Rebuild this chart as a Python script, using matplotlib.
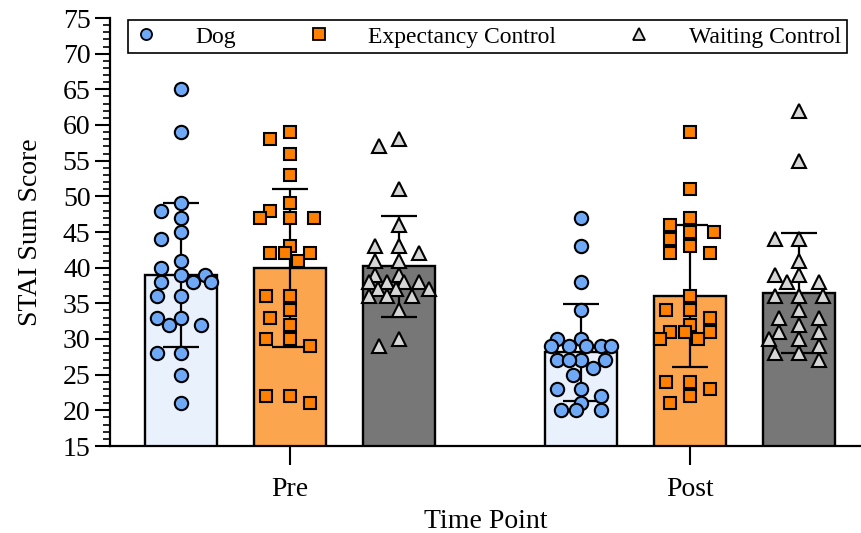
import numpy as np
import matplotlib.pyplot as plt
from matplotlib.lines import Line2D
from matplotlib.ticker import MultipleLocator

plt.rcParams['font.family'] = ['Liberation Serif', 'DejaVu Serif']

time_points = ['Pre', 'Post']
groups = ['Dog', 'Expectancy Control', 'Waiting Control']

# STAI sum scores per participant
dog_pre = [65, 59, 49, 48, 47, 45, 44, 41, 40, 39, 39, 38, 38, 38,
           36, 36, 33, 33, 32, 32, 28, 28, 25, 21]
exp_pre = [59, 58, 56, 53, 49, 48, 47, 47, 47, 43, 42, 42, 42, 41,
           36, 36, 34, 33, 32, 30, 30, 29, 22, 22, 21]
wait_pre = [58, 57, 51, 46, 43, 43, 42, 41, 41, 39, 39, 38, 38, 38,
            38, 37, 37, 37, 36, 36, 36, 34, 30, 29]
dog_post = [47, 43, 38, 34, 30, 30, 29, 29, 29, 29, 29, 27, 27, 27,
            27, 26, 25, 23, 23, 22, 21, 20, 20, 20]
exp_post = [59, 51, 47, 46, 45, 45, 44, 43, 42, 42, 36, 34, 34, 33,
            32, 31, 31, 31, 30, 30, 24, 24, 23, 22, 21]
wait_post = [62, 55, 44, 44, 41, 39, 39, 38, 38, 36, 36, 36, 34, 33,
             33, 32, 31, 31, 30, 30, 29, 28, 28, 27]

scores = [[dog_pre, exp_pre, wait_pre],
          [dog_post, exp_post, wait_post]]

bar_fill = ['#e9f1fd', '#fca54f', '#777777']
point_fill = ['#6fa8f5', '#ff7f00', '#d6d6d6']
markers = ['o', 's', '^']
msizes = [9.6, 9.0, 9.8]
shift = [-0.2725, 0.0, 0.2725]
bar_w = 0.178


def swarm_x(values, ax, xc, half_px=30, wx=24.0, wy=13.0):
    # beeswarm in pixel space; points stay inside the bar, and when a row
    # is full the least crowded slot is taken
    trans = ax.transData
    vals = np.asarray(values, dtype=float)
    ys = trans.transform(np.column_stack([np.full(len(vals), xc), vals]))[:, 1]
    order = np.argsort(-vals, kind='stable')
    grid = np.linspace(-half_px, half_px, 61)
    placed = []
    offs = np.zeros(len(vals))
    for i in order:
        y = ys[i]
        near = [(qx, qy) for qx, qy in placed if abs(y - qy) < wy]
        cands = [0.0] + list(grid)
        for qx, qy in near:
            h = wx * np.sqrt(1 - ((y - qy) / wy) ** 2)
            cands += [c for c in (qx - h, qx + h) if abs(c) <= half_px + 1e-6]

        def gap(c):
            if not near:
                return np.inf
            return min(((c - qx) / wx) ** 2 + ((y - qy) / wy) ** 2
                       for qx, qy in near)

        free = [c for c in cands if gap(c) >= 1 - 1e-6]
        if free:
            best = min(free, key=lambda c: (round(abs(c), 4), c))
        else:
            best = max(cands, key=lambda c: (round(gap(c), 6), -abs(c)))
        offs[i] = best
        placed.append((best, y))
    x0 = trans.transform((xc, 0))[0]
    return trans.inverted().transform(np.column_stack([x0 + offs, ys]))[:, 0]


fig = plt.figure(figsize=(8.62, 5.33), dpi=100)
ax = fig.add_axes([110 / 862, 1 - 446 / 533, 752 / 862, 428 / 533])
ax.set_xlim(-0.45, 1.43)
ax.set_ylim(15, 75)

for t in range(len(time_points)):
    for g in range(len(groups)):
        vals = np.array(scores[t][g], dtype=float)
        xc = t + shift[g]
        m = vals.mean()
        sd = vals.std(ddof=1)
        ax.bar(xc, m, width=bar_w, color=bar_fill[g], edgecolor='black',
               linewidth=1.7, zorder=1)
        ax.errorbar(xc, m, yerr=sd, fmt='none', ecolor='black',
                    elinewidth=1.6, capsize=13, capthick=1.6, zorder=2)
        xs = swarm_x(vals, ax, xc)
        ax.plot(xs, vals, ls='none', marker=markers[g], ms=msizes[g],
                mfc=point_fill[g], mec='black', mew=1.5, zorder=3,
                clip_on=False)

ax.set_xticks(range(len(time_points)))
ax.set_xticklabels(time_points)
ax.yaxis.set_major_locator(MultipleLocator(5))
ax.yaxis.set_minor_locator(MultipleLocator(1))
ax.tick_params(axis='y', which='major', length=11, width=1.5,
               labelsize=20, pad=3)
ax.tick_params(axis='y', which='minor', length=5, width=1.2)
ax.tick_params(axis='x', length=14, width=1.5, labelsize=20, pad=8)

for side in ['top', 'right']:
    ax.spines[side].set_visible(False)
for side in ['left', 'bottom']:
    ax.spines[side].set_linewidth(1.6)

ax.set_ylabel('STAI Sum Score', fontsize=20, labelpad=14)
ax.set_xlabel('Time Point', fontsize=20, labelpad=5)

handles = [Line2D([], [], ls='none', marker=markers[g], ms=8,
                  mfc=point_fill[g], mec='black', mew=1.3)
           for g in range(len(groups))]
leg = ax.legend(handles, groups, ncol=3, loc='upper left',
                bbox_to_anchor=(0.024, 0.92, 0.956, 0.075), mode='expand',
                fancybox=False, edgecolor='black', framealpha=1,
                fontsize=17, handlelength=1.0, handletextpad=1.6,
                borderpad=0.25, borderaxespad=0)
leg.get_frame().set_linewidth(1.2)

fig.savefig('out.png', dpi=100)
